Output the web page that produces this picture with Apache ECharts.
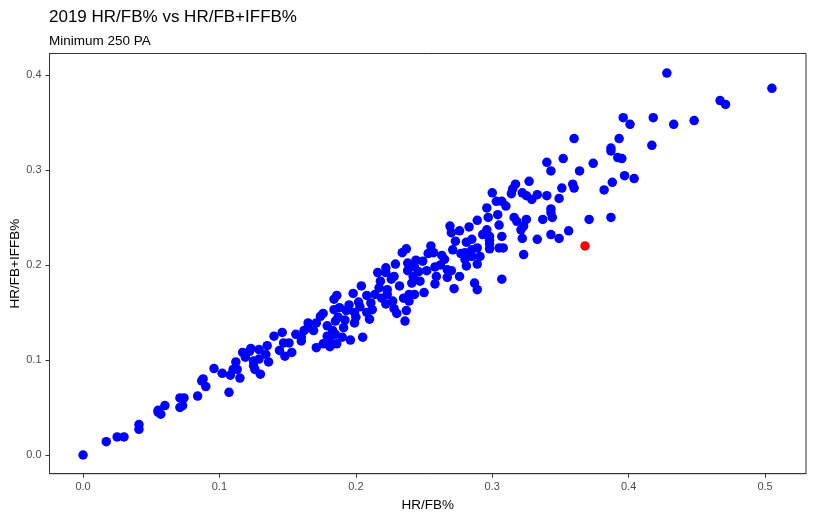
<!DOCTYPE html>
<html>
<head>
<meta charset="utf-8">
<script src="https://cdn.jsdelivr.net/npm/echarts@6/dist/echarts.min.js"></script>
<style>
  html, body { margin: 0; padding: 0; background: #fff; }
  #chart { width: 814px; height: 520px; }
</style>
</head>
<body>
<div id="chart"></div>
<script>
// HR/FB% per hitter (x)
const hrFb = [
  0.000, 0.017, 0.025, 0.030, 0.041, 0.041, 0.055, 0.057, 0.055, 0.060,
  0.071, 0.074, 0.071, 0.073, 0.084, 0.087, 0.088, 0.090, 0.096, 0.102,
  0.107, 0.108, 0.110, 0.112, 0.113, 0.115, 0.117, 0.122, 0.123, 0.125,
  0.125, 0.126, 0.129, 0.130, 0.129, 0.135, 0.136, 0.140, 0.146, 0.147,
  0.151, 0.144, 0.148, 0.153, 0.160, 0.162, 0.165, 0.171, 0.169, 0.176,
  0.179, 0.171, 0.176, 0.181, 0.179, 0.185, 0.185, 0.184, 0.184, 0.186,
  0.186, 0.188, 0.193, 0.199, 0.187, 0.192, 0.199, 0.191, 0.160, 0.190,
  0.181, 0.196, 0.205, 0.198, 0.202, 0.208, 0.214, 0.211, 0.219, 0.223,
  0.222, 0.227, 0.235, 0.239, 0.243, 0.239, 0.228, 0.230, 0.237, 0.236,
  0.208, 0.212, 0.210, 0.237, 0.234, 0.222, 0.229, 0.238, 0.216, 0.218,
  0.223, 0.228, 0.232, 0.238, 0.241, 0.243, 0.204, 0.242, 0.247, 0.250,
  0.253, 0.257, 0.263, 0.265, 0.249, 0.252, 0.258, 0.259, 0.267, 0.270,
  0.267, 0.276, 0.258, 0.287, 0.289, 0.272, 0.307, 0.269, 0.270, 0.276,
  0.273, 0.271, 0.281, 0.285, 0.289, 0.285, 0.280, 0.285, 0.291, 0.289,
  0.281, 0.280, 0.305, 0.298, 0.298, 0.308, 0.296, 0.304, 0.289, 0.297,
  0.296, 0.298, 0.298, 0.305, 0.307, 0.323, 0.300, 0.303, 0.307, 0.317,
  0.315, 0.314, 0.327, 0.322, 0.325, 0.329, 0.333, 0.316, 0.318, 0.325,
  0.323, 0.321, 0.322, 0.333, 0.428, 0.505, 0.467, 0.471, 0.396, 0.401,
  0.418, 0.433, 0.448, 0.360, 0.393, 0.387, 0.387, 0.417, 0.392, 0.395,
  0.340, 0.352, 0.343, 0.364, 0.374, 0.397, 0.404, 0.388, 0.382, 0.351,
  0.359, 0.360, 0.340, 0.349, 0.343, 0.343, 0.344, 0.337, 0.371, 0.387,
  0.356, 0.343, 0.349,
  0.165, 0.174, 0.195, 0.203, 0.217, 0.226, 0.246, 0.262, 0.277, 0.293,
  0.156, 0.183, 0.200, 0.222, 0.244, 0.255, 0.283, 0.310, 0.134, 0.119
];
// HR/FB+IFFB% per hitter (y)
const hrFbIffb = [
  0.000, 0.014, 0.019, 0.019, 0.032, 0.027, 0.045, 0.043, 0.047, 0.052,
  0.060, 0.060, 0.050, 0.052, 0.062, 0.078, 0.080, 0.072, 0.091, 0.086,
  0.066, 0.084, 0.090, 0.098, 0.090, 0.081, 0.108, 0.109, 0.112, 0.099,
  0.094, 0.090, 0.101, 0.085, 0.111, 0.115, 0.098, 0.125, 0.129, 0.118,
  0.118, 0.110, 0.104, 0.108, 0.124, 0.131, 0.139, 0.139, 0.131, 0.149,
  0.136, 0.113, 0.117, 0.114, 0.125, 0.127, 0.141, 0.153, 0.164, 0.117,
  0.168, 0.155, 0.152, 0.150, 0.145, 0.142, 0.139, 0.134, 0.120, 0.124,
  0.120, 0.121, 0.124, 0.170, 0.161, 0.168, 0.169, 0.160, 0.165, 0.169,
  0.159, 0.162, 0.165, 0.169, 0.169, 0.162, 0.154, 0.149, 0.152, 0.141,
  0.150, 0.153, 0.143, 0.217, 0.213, 0.197, 0.201, 0.202, 0.192, 0.183,
  0.174, 0.188, 0.178, 0.194, 0.181, 0.198, 0.178, 0.188, 0.183, 0.171,
  0.212, 0.213, 0.210, 0.206, 0.204, 0.194, 0.198, 0.188, 0.195, 0.194,
  0.187, 0.188, 0.180, 0.181, 0.174, 0.175, 0.185, 0.241, 0.234, 0.236,
  0.225, 0.216, 0.224, 0.227, 0.218, 0.216, 0.213, 0.209, 0.209, 0.201,
  0.199, 0.206, 0.218, 0.222, 0.217, 0.218, 0.260, 0.253, 0.247, 0.250,
  0.237, 0.226, 0.230, 0.242, 0.230, 0.211, 0.276, 0.267, 0.267, 0.285,
  0.280, 0.275, 0.288, 0.276, 0.273, 0.269, 0.274, 0.250, 0.246, 0.248,
  0.241, 0.237, 0.228, 0.227, 0.402, 0.386, 0.373, 0.369, 0.355, 0.348,
  0.355, 0.348, 0.352, 0.333, 0.333, 0.323, 0.320, 0.326, 0.313, 0.312,
  0.308, 0.312, 0.299, 0.299, 0.307, 0.294, 0.291, 0.287, 0.279, 0.281,
  0.285, 0.281, 0.273, 0.270, 0.259, 0.255, 0.250, 0.248, 0.248, 0.250,
  0.236, 0.232, 0.228,
  0.134, 0.146, 0.158, 0.156, 0.176, 0.185, 0.193, 0.200, 0.212, 0.232,
  0.127, 0.131, 0.145, 0.192, 0.205, 0.220, 0.240, 0.262, 0.106, 0.103
];
// highlighted hitter
const redX = [0.368];
const redY = [0.220];

const xTicks = [0.0, 0.1, 0.2, 0.3, 0.4, 0.5];
const yTicks = [0.0, 0.1, 0.2, 0.3, 0.4];

const fontFamily = '"Liberation Sans", Arial, sans-serif';
const frameColor = '#333333';

const blueData = hrFb.map(function (x, i) { return [x, hrFbIffb[i]]; });
const redData = redX.map(function (x, i) { return [x, redY[i]]; });

const myChart = echarts.init(document.getElementById('chart'));
const option = {
    animation: false,
    backgroundColor: '#ffffff',
    textStyle: { fontFamily: fontFamily },
    title: [
        {
            text: '2019 HR/FB% vs HR/FB+IFFB%',
            left: 44,
            top: 4,
            textStyle: { fontSize: 17, fontWeight: 'normal', color: '#000', fontFamily: fontFamily }
        },
        {
            text: 'Minimum 250 PA',
            left: 44,
            top: 29,
            textStyle: { fontSize: 13.5, fontWeight: 'normal', color: '#000', fontFamily: fontFamily }
        }
    ],
    grid: {
        left: 49.5,
        top: 53.5,
        right: 8,
        bottom: 46.3,
        outerBoundsMode: 'none',
        containLabel: false,
        show: true,
        borderColor: frameColor,
        borderWidth: 1
    },
    xAxis: {
        type: 'value',
        min: -0.0246,
        max: 0.530,
        name: 'HR/FB%',
        nameLocation: 'middle',
        nameGap: 25,
        nameMoveOverlap: false,
        nameTextStyle: { fontSize: 13.5, color: '#000', fontFamily: fontFamily },
        splitLine: { show: false },
        axisLine: { show: true, onZero: false, lineStyle: { color: frameColor, width: 1 } },
        axisTick: {
            show: true,
            length: 4,
            lineStyle: { color: frameColor },
            customValues: xTicks
        },
        axisLabel: {
            color: '#4d4d4d',
            fontSize: 11,
            margin: 8,
            customValues: xTicks,
            formatter: function (v) { return v.toFixed(1); }
        }
    },
    yAxis: {
        type: 'value',
        min: -0.0197,
        max: 0.4226,
        name: 'HR/FB+IFFB%',
        nameLocation: 'middle',
        nameGap: 27,
        nameMoveOverlap: false,
        nameTextStyle: { fontSize: 13.5, color: '#000', fontFamily: fontFamily },
        splitLine: { show: false },
        axisLine: { show: true, onZero: false, lineStyle: { color: frameColor, width: 1 } },
        axisTick: {
            show: true,
            length: 4,
            lineStyle: { color: frameColor },
            customValues: yTicks
        },
        axisLabel: {
            color: '#4d4d4d',
            fontSize: 11,
            margin: 8,
            customValues: yTicks,
            formatter: function (v) { return v.toFixed(1); }
        }
    },
    series: [
        {
            name: 'hitters',
            type: 'scatter',
            symbol: 'circle',
            symbolSize: 9.5,
            itemStyle: { color: '#0000ff', opacity: 1 },
            data: blueData
        },
        {
            name: 'highlight',
            type: 'scatter',
            symbol: 'circle',
            symbolSize: 9.5,
            itemStyle: { color: '#ff0000', opacity: 1 },
            data: redData
        }
    ]
};
myChart.setOption(option);
</script>
</body>
</html>
